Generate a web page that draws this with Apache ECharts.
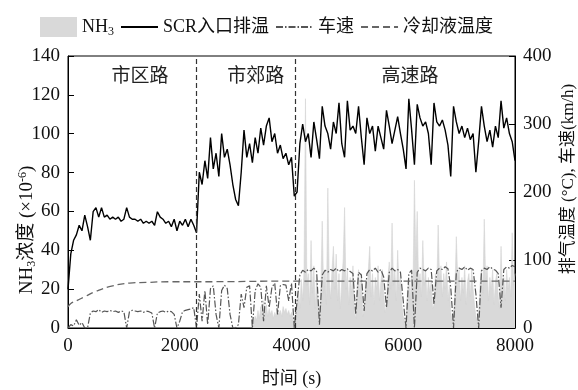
<!DOCTYPE html>
<html>
<head>
<meta charset="utf-8">
<script src="https://cdn.jsdelivr.net/npm/echarts@6/dist/echarts.min.js"></script>
<style>
  html, body { margin: 0; padding: 0; background: #fff; }
  #chart { width: 578px; height: 390px; }
</style>
</head>
<body>
<div id="chart"></div>
<script>
// 采样间隔 (s)
const step = 50;
const nh3Start = 3300;
const nh3Step = 25;

// SCR入口排温 (°C)，每50s一个点
const scrTemp = [
  57,109,129,137,151,143,166,149,129,171,
  177,163,177,163,166,160,163,160,163,157,
  160,177,163,160,160,157,160,154,157,154,
  157,151,171,163,160,154,157,149,160,143,
  157,151,160,149,160,151,140,
  229,211,246,220,280,234,257,223,286,251,
  263,240,211,189,180,229,291,251,271,243,
  280,257,294,269,297,309,274,286,257,269,
  249,257,240,251,194,
  200,271,300,274,286,251,303,277,249,326,
  297,286,263,303,286,331,271,251,334,291,
  297,286,326,280,240,309,286,297,260,297,
  280,263,320,297,271,291,311,286,263,234,
  337,291,240,329,309,297,303,286,240,331,
  303,297,306,291,269,223,326,303,286,297,
  280,294,277,286,229,274,326,297,274,291,
  266,297,280,334,294,309,286,274,246
];

// 车速 (km/h)，每50s一个点
const speed = [
  0,5,3,12,4,8,0,0,22,25,
  24,27,23,25,24,26,24,25,23,25,
  24,0,24,26,25,24,25,23,25,24,
  22,0,22,24,25,23,25,24,20,0,
  10,24,26,27,28,30,
  0,50,10,55,5,58,62,20,0,55,
  63,58,20,0,0,5,50,30,60,62,
  0,55,65,60,10,62,30,60,66,20,
  62,64,63,40,66,0,
  40,78,85,82,86,84,88,83,5,78,
  85,82,86,84,88,83,86,84,87,83,
  80,20,82,78,25,80,86,84,88,82,
  86,75,30,82,88,84,86,82,40,0,
  80,85,0,82,88,86,84,88,86,35,
  84,88,86,90,87,60,0,82,88,86,
  90,85,88,86,50,0,84,88,86,90,
  87,85,80,30,86,90,88,92,90
];

// NH3浓度 (×10^-6)，从3300s开始每25s一个点
const nh3 = [
  0,3,6,4,9,5,11,7,14,8,
  12,6,10,7,9,5,8,6,10,7,
  9,6,11,8,10,7,9,6,8,5,
  4,6,12,20,10,25,14,30,118,22,
  28,12,45,18,32,10,26,15,8,20,
  55,18,30,12,72,25,15,30,42,20,
  38,14,28,10,24,35,62,20,30,12,
  26,18,32,8,5,22,30,15,28,6,
  10,24,18,30,42,16,28,12,26,20,
  32,14,24,30,18,8,12,26,34,20,
  54,22,30,14,40,20,28,12,6,3,
  5,18,26,14,30,22,76,35,60,20,
  28,16,45,22,30,14,26,18,24,10,
  12,28,20,53,24,32,16,28,20,34,
  14,22,8,4,6,20,47,25,30,14,
  26,18,32,12,24,28,16,30,20,12,
  6,4,8,22,30,18,56,24,32,14,
  26,20,30,12,24,28,16,10,42,18,
  26,14,30,20,26,16,49,22,28
];

// 冷却液温度 (°C)
const coolTime = [0, 50, 150, 300, 500, 800, 1100, 1400, 1800, 2300, 4100, 8000];
const coolTemp = [31, 36, 40, 46, 54, 62, 66, 67, 68, 68, 69, 69];

// 工况分段
const segmentBreaks = [2300, 4070];
const regionNames = ['市区路', '市郊路', '高速路'];
const regionTime = [1290, 3360, 6120];
const regionLevel = 129;

const font = '"Liberation Serif", "Noto Sans CJK SC", serif';

const scrData = scrTemp.map((v, i) => [i * step, v]);
const speedData = speed.map((v, i) => [i * step, v]);
const nh3Data = nh3.map((v, i) => [nh3Start + i * nh3Step, v]);
const coolData = coolTime.map((t, i) => [t, coolTemp[i]]);

// 图例里线条不画圆点
const noDot = { color: 'transparent', borderColor: 'transparent', borderWidth: 0 };

const chart = echarts.init(document.getElementById('chart'));
chart.setOption({
  animation: false,
  backgroundColor: '#fff',
  textStyle: { fontFamily: font },
  grid: {
    left: 68, right: 63, top: 56, bottom: 62,
    outerBoundsMode: 'none',
    show: true, borderColor: '#000', borderWidth: 1
  },
  legend: {
    left: 35,
    top: 12,
    itemWidth: 37,
    itemHeight: 20,
    itemGap: 6,
    data: [
      { name: 'NH3', icon: 'rect' },
      { name: 'SCR入口排温', itemStyle: noDot },
      { name: '车速', itemStyle: noDot },
      { name: '冷却液温度', itemStyle: noDot }
    ],
    formatter: (n) => (n === 'NH3' ? '{a|NH}{b|3}' : n),
    textStyle: {
      fontSize: 18, color: '#111', fontFamily: font,
      rich: {
        a: { fontSize: 18, fontFamily: font, color: '#111' },
        b: { fontSize: 12, fontFamily: font, color: '#111', verticalAlign: 'bottom', padding: [9, 0, 0, 0] }
      }
    }
  },
  xAxis: {
    type: 'value',
    min: 0, max: 8000, interval: 2000,
    name: '时间 (s)',
    nameLocation: 'middle',
    nameGap: 42,
    nameMoveOverlap: false,
    nameTextStyle: { fontSize: 18, color: '#111', fontFamily: font },
    axisLine: { lineStyle: { color: '#000' } },
    axisTick: { show: false },
    axisLabel: { fontSize: 19, color: '#111', margin: 9, formatter: (v) => String(v) },
    splitLine: { show: false }
  },
  yAxis: [
    {
      type: 'value',
      min: 0, max: 140, interval: 20,
      name: '{a|NH}{s|3}{a|浓度 (×10}{p|-6}{a|)}',
      nameLocation: 'middle',
      nameRotate: 90,
      nameGap: 30,
      nameMoveOverlap: false,
      nameTextStyle: {
        padding: [0, 76, 0, 0],
        rich: {
          a: { fontSize: 19, color: '#111', fontFamily: font },
          s: { fontSize: 12, color: '#111', fontFamily: font, verticalAlign: 'bottom', padding: [9, 0, 0, 0] },
          p: { fontSize: 12, color: '#111', fontFamily: font, verticalAlign: 'top', padding: [0, 0, 9, 0] }
        }
      },
      axisLine: { show: true, lineStyle: { color: '#000' } },
      axisTick: { show: true, inside: true, length: 6, lineStyle: { color: '#000' } },
      axisLabel: { fontSize: 19, color: '#111', margin: 8 },
      splitLine: { show: false }
    },
    {
      type: 'value',
      min: 0, max: 400, interval: 100,
      position: 'right',
      name: '排气温度 (°C), 车速(km/h)',
      nameLocation: 'middle',
      nameRotate: 90,
      nameGap: 45,
      nameMoveOverlap: false,
      nameTextStyle: { fontSize: 17, color: '#111', fontFamily: font, padding: [0, 0, 0, 26] },
      axisLine: { show: true, lineStyle: { color: '#000' } },
      axisTick: { show: true, inside: true, length: 6, lineStyle: { color: '#000' } },
      axisLabel: { fontSize: 19, color: '#111', margin: 8 },
      splitLine: { show: false }
    }
  ],
  series: [
    {
      name: 'NH3',
      type: 'line',
      yAxisIndex: 0,
      data: nh3Data,
      symbol: 'none',
      color: '#d9d9d9',
      lineStyle: { width: 0.6, color: '#d4d4d4' },
      areaStyle: { color: '#d9d9d9', opacity: 1 },
      z: 1,
      markPoint: {
        symbol: 'rect',
        symbolSize: 1,
        itemStyle: { color: 'transparent' },
        label: { show: true, position: 'inside', fontSize: 19, color: '#222', fontFamily: font, formatter: (p) => p.name },
        data: regionNames.map((n, i) => ({ name: n, coord: [regionTime[i], regionLevel] }))
      }
    },
    {
      name: '车速',
      type: 'line',
      yAxisIndex: 1,
      data: speedData,
      symbol: 'none',
      color: '#555',
      lineStyle: { color: '#555', width: 1.2, type: [7, 2, 1.5, 2] },
      z: 2
    },
    {
      name: '冷却液温度',
      type: 'line',
      yAxisIndex: 1,
      data: coolData,
      smooth: true,
      symbol: 'none',
      color: '#666',
      lineStyle: { color: '#666', width: 1.3, type: [7, 4] },
      z: 3
    },
    {
      name: 'SCR入口排温',
      type: 'line',
      yAxisIndex: 1,
      data: scrData,
      symbol: 'none',
      color: '#000',
      lineStyle: { color: '#000', width: 1.4 },
      z: 4,
      markLine: {
        silent: true,
        symbol: ['none', 'none'],
        label: { show: false },
        lineStyle: { color: '#333', width: 1.2, type: [5, 3] },
        data: segmentBreaks.map((t) => ({ xAxis: t }))
      }
    }
  ]
});
</script>
</body>
</html>
